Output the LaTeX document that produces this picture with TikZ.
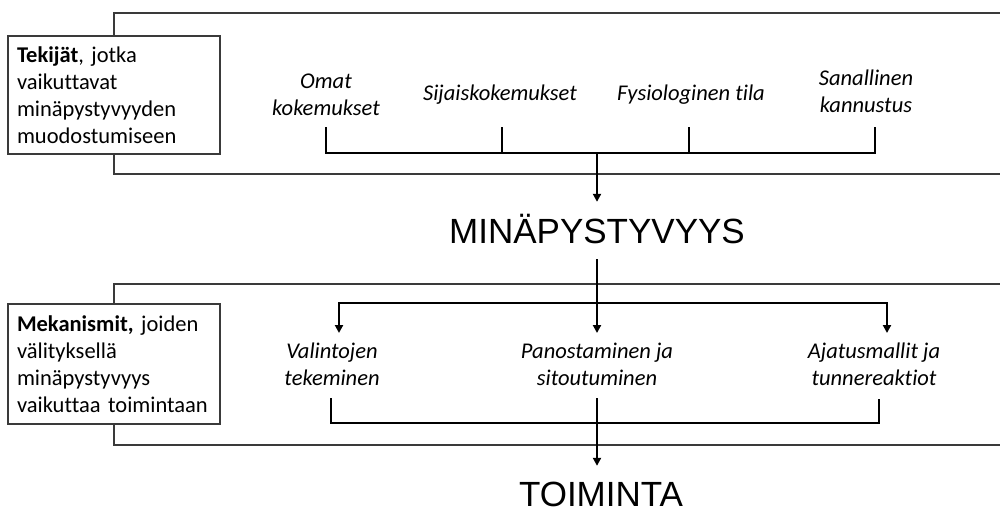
\documentclass[tikz,border=0pt]{standalone}
\usepackage{fontspec}
\setmainfont{Carlito}[Ligatures=NoCommon]
\newfontfamily\headfont{Liberation Sans}
\usetikzlibrary{arrows.meta,positioning}
\definecolor{framegray}{HTML}{3A3A3A}
\frenchspacing
\tikzset{
  framebox/.style={draw=framegray, line width=1.2pt},
  labelbox/.style={
    rectangle, draw=framegray, fill=white, line width=1.2pt,
    minimum width=212pt, text width=194pt, inner xsep=9pt,
    align=left, font=\fontsize{22.5}{27}\selectfont
  },
  itemtext/.style={
    font=\fontsize{22.5}{27}\selectfont\itshape, align=center, inner sep=0pt
  },
  headtext/.style={
    font=\fontsize{35}{40}\selectfont\headfont, anchor=base,
    text height=25pt, text depth=0pt, inner sep=16pt
  },
  bracket/.style={line width=2pt, line join=miter},
  flowarrow/.style={line width=2pt, -{Triangle[length=8pt,width=8pt]}},
}

\begin{document}
\begin{tikzpicture}[x=1pt, y=-1pt]
  \useasboundingbox (0,0) rectangle (1000,515);

  % Frames, open to the right
  \draw[framebox] (1000,13) -- (114,13) -- (114,174) -- (1000,174);
  \draw[framebox] (1000,284) -- (114,284) -- (114,445) -- (1000,445);

  % Side labels
  \node[labelbox, minimum height=118pt] (tekijat) at (114,95) {
    \textbf{Tekijät}, jotka\\ vaikuttavat\\ minäpystyvyyden\\ muodostumiseen};
  \node[labelbox, minimum height=120pt] (mekan) at (114,364) {
    \textbf{Mekanismit,} joiden\\ välityksellä\\ minäpystyvyys\\ vaikuttaa toimintaan};

  % Sources
  \node[itemtext] (omat) at (326,95) {Omat\\ kokemukset};
  \node[itemtext] (sijais) at (500,95) {Sijaiskokemukset};
  \node[itemtext] (fysio) at (691,95) {Fysiologinen tila};
  \node[itemtext] (sanal) at (866,91) {Sanallinen\\ kannustus};

  % Headings
  \node[headtext] (mina) at (597,243) {MINÄPYSTYVYYS};
  \node[headtext, inner sep=0pt] (toim) at (601,506) {TOIMINTA};

  % Mechanisms
  \node[itemtext, anchor=north, inner ysep=10pt] (valinta) at (332,333) {Valintojen\\ tekeminen};
  \node[itemtext, anchor=north, inner ysep=10pt] (panos) at (597,333) {Panostaminen ja\\ sitoutuminen};
  \node[itemtext, anchor=north, inner ysep=10pt] (ajatus) at (874,333) {Ajatusmallit ja\\ tunnereaktiot};

  % Bracket points
  \coordinate (t1) at (326,127);
  \coordinate (t2) at (502,127);
  \coordinate (t3) at (689,127);
  \coordinate (t4) at (875,127);
  \coordinate (jtop) at (597,153);
  \coordinate (jmid) at (597,303);
  \coordinate (u1) at (331,398);
  \coordinate (u2) at (597,398);
  \coordinate (u3) at (879,399);

  % Top bracket into MINÄPYSTYVYYS
  \draw[bracket] (t1) -- (t1 |- jtop) -- (t4 |- jtop) -- (t4);
  \draw[bracket] (t2) -- (t2 |- jtop);
  \draw[bracket] (t3) -- (t3 |- jtop);
  \draw[flowarrow] (jtop) -- (mina.north);

  % Split into mechanisms
  \draw[bracket] (mina.south) -- (jmid);
  \draw[flowarrow] (jmid) -- (panos.north);
  \draw[flowarrow] (jmid) -| ([xshift=7pt]valinta.north);
  \draw[flowarrow] (jmid) -| ([xshift=13pt]ajatus.north);

  % Bottom bracket into TOIMINTA
  \draw[bracket] (u1) -- ++(0,25) -| (u3);
  \draw[flowarrow, shorten >=15pt] (u2) -- (u2 |- toim.north);
\end{tikzpicture}
\end{document}
